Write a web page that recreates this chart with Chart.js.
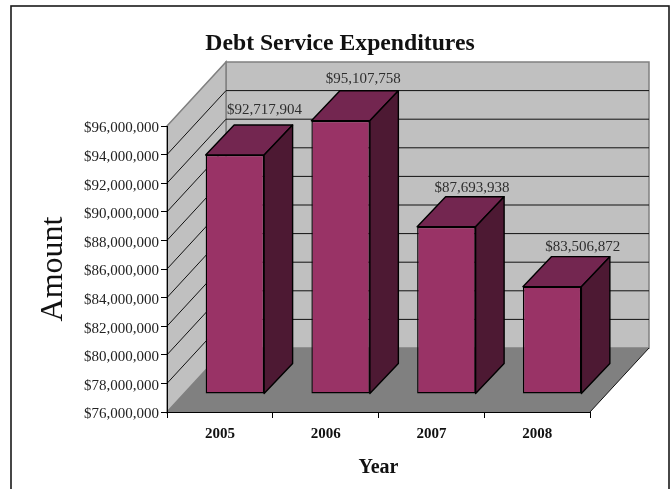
<!DOCTYPE html>
<html>
<head>
<meta charset="utf-8">
<title>Debt Service Expenditures</title>
<script src="https://cdn.jsdelivr.net/npm/chart.js@4"></script>
<style>
  html, body { margin: 0; padding: 0; background: #fff; }
  canvas { display: block; }
</style>
</head>
<body>
<canvas id="chart" width="671" height="489"></canvas>
<script>
const years = ['2005', '2006', '2007', '2008'];
const amounts = [92717904, 95107758, 87693938, 83506872];
const axisMin = 76000000;
const axisMax = 96000000;
const axisStep = 2000000;
const chartTitle = 'Debt Service Expenditures';
const yTitle = 'Amount';
const xTitle = 'Year';

const serif = '"Liberation Serif", "Times New Roman", serif';
const money = v => '$' + Math.round(v).toLocaleString('en-US');

// Oblique projection: how far the back of the plot and the bars recede.
const wall = { dx: 59, dy: 64 };
const barFront = { dx: 15, dy: 18 };
const barDepth = { dx: 28.5, dy: 30 };
// Hand placement of each value caption relative to its box.
const captionNudge = [[1, -2], [-6, 1], [-3, 4], [2, 3]];
const tickLabelDrop = 2.5;
const colors = {
  wall: '#c0c0c0', floor: '#808080', edge: '#808080', grid: '#111111',
  front: '#993366', top: '#732650', side: '#4d1933', outline: '#000000'
};

function poly(ctx, pts, fill, stroke, width) {
  ctx.beginPath();
  pts.forEach((p, i) => i ? ctx.lineTo(p[0], p[1]) : ctx.moveTo(p[0], p[1]));
  ctx.closePath();
  if (fill) { ctx.fillStyle = fill; ctx.fill(); }
  if (stroke) { ctx.strokeStyle = stroke; ctx.lineWidth = width; ctx.stroke(); }
}

const box3d = {
  id: 'box3d',
  // The title is centred over the whole frame, not over the plot.
  afterLayout(chart) {
    chart.titleBlock.left = 9;
    chart.titleBlock.right = 671;
  },
  // Value-axis labels sit slightly below their tick marks.
  afterUpdate(chart) {
    chart.scales.y.getLabelItems().forEach(item => {
      item.options.translation[1] += tickLabelDrop;
    });
  },
  // Page frame, side wall, back wall, floor and receding grid lines.
  beforeDraw(chart) {
    const { ctx, chartArea: a, scales: { y } } = chart;
    const d = wall;
    ctx.save();
    ctx.strokeStyle = '#1a1a1a';
    ctx.lineWidth = 1.6;
    ctx.strokeRect(11, 6, 658, 500);

    poly(ctx, [[a.left + d.dx, a.top - d.dy], [a.right + d.dx, a.top - d.dy],
               [a.right + d.dx, a.bottom - d.dy], [a.left + d.dx, a.bottom - d.dy]],
         colors.wall, colors.edge, 1.5);
    poly(ctx, [[a.left, a.top], [a.left + d.dx, a.top - d.dy],
               [a.left + d.dx, a.bottom - d.dy], [a.left, a.bottom]],
         colors.wall, colors.edge, 1.5);

    ctx.strokeStyle = colors.grid;
    ctx.lineWidth = 1;
    y.ticks.forEach(t => {
      if (t.value === axisMin || t.value === axisMax) return;
      const py = y.getPixelForValue(t.value);
      ctx.beginPath();
      ctx.moveTo(a.left, py);
      ctx.lineTo(a.left + d.dx, py - d.dy);
      ctx.lineTo(a.right + d.dx, py - d.dy);
      ctx.stroke();
    });

    poly(ctx, [[a.left, a.bottom], [a.right, a.bottom],
               [a.right + d.dx, a.bottom - d.dy], [a.left + d.dx, a.bottom - d.dy]],
         colors.floor);
    ctx.beginPath();
    ctx.moveTo(a.right, a.bottom);
    ctx.lineTo(a.right + d.dx, a.bottom - d.dy);
    ctx.strokeStyle = colors.grid;
    ctx.stroke();
    ctx.restore();
  },
  // Top and side faces; the library then paints the front face in the same shifted space.
  beforeDatasetDraw(chart, args) {
    const { ctx } = chart;
    ctx.save();
    ctx.translate(barFront.dx, -barFront.dy);
    args.meta.data.forEach(bar => {
      const l = bar.x - bar.width / 2, r = bar.x + bar.width / 2;
      const t = bar.y, b = bar.base;
      const { dx, dy } = barDepth;
      ctx.lineJoin = 'round';
      poly(ctx, [[l, t], [r, t], [r + dx, t - dy], [l + dx, t - dy]], colors.top, colors.outline, 1.4);
      poly(ctx, [[r, t], [r + dx, t - dy], [r + dx, b - dy], [r, b]], colors.side, colors.outline, 1.4);
    });
  },
  afterDatasetDraw(chart, args) {
    const { ctx } = chart;
    ctx.restore();
    // Value captions above the rear edge of each box.
    ctx.save();
    ctx.font = '15px ' + serif;
    ctx.fillStyle = '#2e2e2e';
    ctx.textAlign = 'center';
    ctx.textBaseline = 'middle';
    args.meta.data.forEach((bar, i) => {
      ctx.fillText(money(amounts[i]),
        bar.x + barFront.dx + barDepth.dx + captionNudge[i][0],
        bar.y - barFront.dy - barDepth.dy - 13 + captionNudge[i][1]);
    });
    ctx.restore();
  }
};

new Chart(document.getElementById('chart'), {
  type: 'bar',
  data: {
    labels: years,
    datasets: [{
      data: amounts,
      base: axisMin,
      backgroundColor: colors.front,
      borderColor: colors.outline,
      borderWidth: 1.4,
      borderSkipped: false,
      barPercentage: 0.553,
      categoryPercentage: 1,
      clip: false
    }]
  },
  plugins: [box3d],
  options: {
    responsive: false,
    animation: false,
    layout: { autoPadding: false, padding: { left: 0, right: 81, top: 0, bottom: 0 } },
    plugins: {
      legend: { display: false },
      tooltip: { enabled: false },
      title: {
        display: true,
        text: chartTitle,
        color: '#111111',
        font: { family: serif, size: 23.7, weight: 'bold', lineHeight: 1.2 },
        padding: { top: 29.5, bottom: 68.06 }
      }
    },
    scales: {
      y: {
        min: axisMin,
        max: axisMax,
        afterFit: s => { s.width = 167; },
        grid: { drawOnChartArea: false, drawTicks: true, tickLength: 6, color: '#000', lineWidth: 1 },
        border: { display: true, color: '#000', width: 1 },
        ticks: {
          stepSize: axisStep,
          padding: 2,
          color: '#222222',
          font: { family: serif, size: 15 },
          callback: money
        },
        title: {
          display: true,
          text: yTitle,
          color: '#111111',
          font: { family: serif, size: 32, lineHeight: 1.2 },
          padding: { top: 34, bottom: 0 }
        }
      },
      x: {
        afterFit: s => { s.height = 77; },
        grid: { drawOnChartArea: false, drawTicks: true, tickLength: 6, color: '#000', lineWidth: 1 },
        border: { display: true, color: '#000', width: 1 },
        ticks: {
          padding: 7,
          color: '#111111',
          maxRotation: 0,
          font: { family: serif, size: 15, weight: 'bold' }
        },
        title: {
          display: true,
          text: xTitle,
          color: '#111111',
          font: { family: serif, size: 20, weight: 'bold', lineHeight: 1.2 },
          padding: { top: 0, bottom: 9 }
        }
      }
    }
  }
});
</script>
</body>
</html>
